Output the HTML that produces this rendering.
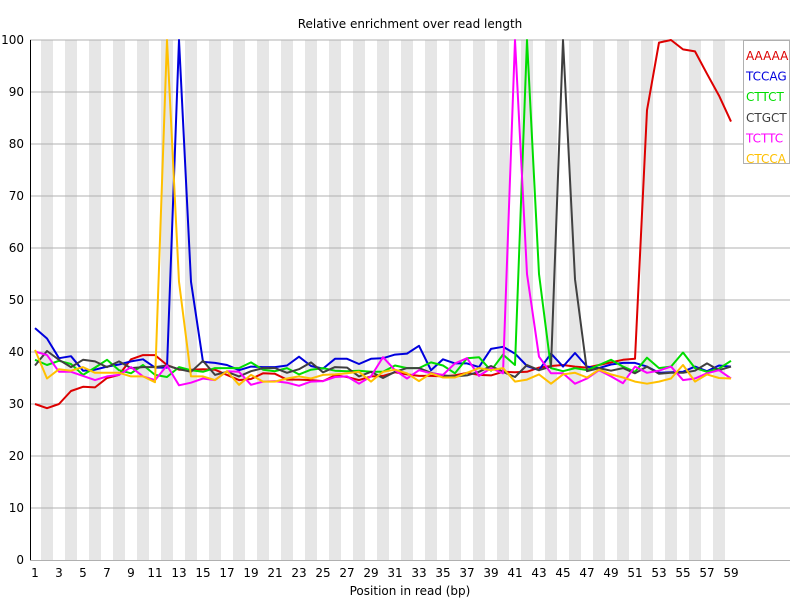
<!DOCTYPE html>
<html><head><meta charset="utf-8"><style>
body{margin:0;background:#fff;}
svg{display:block;font-family:"DejaVu Sans","Liberation Sans",sans-serif;}
</style></head><body>
<svg id="chart" width="800" height="600" xmlns="http://www.w3.org/2000/svg">
<rect width="800" height="600" fill="#fff"/>
<g id="stripes"></g><g id="grid"></g><g id="axes"></g><g id="series"></g><g id="legend"></g>
<text x="410" y="28" font-size="12" text-anchor="middle">Relative enrichment over read length</text>
<text x="410" y="595" font-size="12" text-anchor="middle">Position in read (bp)</text>
</svg>
<script>
const positions = Array.from({length:59},(_,i)=>i+1);
const yTicks = [0,10,20,30,40,50,60,70,80,90,100];
const seriesNames = ["AAAAA","TCCAG","CTTCT","CTGCT","TCTTC","CTCCA"];
const seriesColors = ["#dd0000","#0000dd","#00dd00","#404040","#ff00ff","#ffc000"];
const aaaaa = [30,29.2,30,32.5,33.3,33.2,35,35.6,38.6,39.4,39.4,37.5,36.6,36.6,36.7,36.6,35.6,34.6,34.8,35.9,35.8,34.7,34.7,34.6,34.4,35.5,35.2,34.6,35.3,35.4,36.1,35.7,35.4,35.4,35.3,35.5,36.0,35.6,35.5,36.2,36.1,36.2,37.0,37.3,37.5,37.2,37.0,37.5,38.0,38.5,38.7,86.5,99.5,100,98.2,97.8,93.5,89.3,84.3];
const tccag = [44.6,42.6,38.8,39.2,36.4,36.6,37.2,37.6,38.2,38.6,37.0,37.0,100,53.5,38.1,37.9,37.5,36.5,37.2,37.1,37.1,37.4,39.1,37.3,36.8,38.7,38.7,37.7,38.7,38.8,39.5,39.7,41.2,36.5,38.6,37.8,37.8,37.1,40.6,41.0,39.7,37.3,36.5,39.7,37.2,39.8,37.2,36.9,37.6,37.9,37.9,37.2,36.0,36.1,36.2,37.2,36.3,37.4,37.2];
const cttct = [38.5,37.5,38.3,37.7,35.6,37.0,38.5,36.5,35.9,37.5,35.6,35.2,37.1,36.5,36.2,36.9,36.9,36.9,38.0,36.6,36.3,36.9,35.7,36.6,36.9,36.4,36.3,36.4,36.2,36.2,37.4,36.9,36.9,38.0,37.4,35.9,38.8,39.0,36.4,39.5,37.5,100,55,36.9,36.3,36.9,36.5,37.5,38.5,37.2,36.2,38.9,36.9,37.2,39.9,36.9,36.2,36.8,38.3];
const ctgct = [37.4,40.2,38.5,37.1,38.5,38.2,37.1,38.2,36.9,37.1,37.1,37.4,36.7,36.2,38.3,35.6,36.2,35.3,36.3,36.9,36.9,36.0,36.7,38.0,36.1,37.1,37.0,35.3,36.2,35.0,36.2,36.9,36.9,36.0,35.5,35.3,35.5,36.2,37.3,36.2,35.2,37.5,36.5,37.2,100,54,36.3,36.9,36.4,36.9,35.9,37.2,35.8,36.0,36.0,36.4,37.8,36.5,37.2];
const tcttc = [40.1,39.4,36.2,36.2,35.4,34.6,35.3,35.6,37.1,35.3,34.6,37.4,33.6,34.1,34.9,34.6,36.3,36.2,33.7,34.3,34.4,34.1,33.5,34.3,34.4,35.2,35.3,33.9,35.3,39.0,36.5,34.9,36.5,35.9,35.6,37.8,38.8,35.4,36.9,35.9,100,55,39.1,35.9,35.9,33.9,34.9,36.5,35.3,34.0,37.2,36.0,36.4,37.2,34.6,34.9,35.9,36.5,34.9];
const ctcca = [40.4,34.9,36.7,36.4,37.1,36.0,36.0,36.0,35.3,35.3,34.2,100,53.5,35.3,35.3,34.6,36.3,33.7,35.6,34.3,34.3,34.9,35.3,34.9,35.6,35.7,35.9,36.2,34.3,36.2,36.6,35.9,34.4,35.9,35.1,35.1,36.0,36.9,36.5,36.9,34.3,34.7,35.7,33.9,35.7,36.0,35.1,36.6,35.7,35.1,34.3,33.9,34.3,34.9,37.5,34.3,35.7,35.0,34.9];
const allSeries = [aaaaa,tccag,cttct,ctgct,tcttc,ctcca];

const NS="http://www.w3.org/2000/svg";
const x0=29, colW=12, yTop=40, yBot=560, xRight=790;
function xScale(p){return x0+colW*(p-1)+colW/2;}
function yScale(v){return yBot-(v/100)*(yBot-yTop);}
function mk(tag,attrs,parent){const e=document.createElementNS(NS,tag);for(const k in attrs)e.setAttribute(k,attrs[k]);parent.appendChild(e);return e;}

const stripes=document.getElementById('stripes');
positions.forEach(p=>{
  if(p%2===0){
    const r=mk('rect',{x:x0+colW*(p-1),y:yTop,width:colW,height:yBot-yTop,fill:'#e6e6e6'},stripes);
    
    
  }
});
const grid=document.getElementById('grid');
const axes=document.getElementById('axes');
yTicks.forEach(t=>{
  const y=yScale(t);
  if(t>0){
    const l=mk('line',{x1:30,x2:xRight,y1:y,y2:y,stroke:'#b0b0b0','stroke-width':1},grid);
    
    
  }
  const tx=mk('text',{x:24,y:y+4,'font-size':12,'text-anchor':'end'},axes);
  tx.textContent=t;
  
  
});
const bl=mk('line',{x1:30,x2:xRight,y1:yBot+0.5,y2:yBot+0.5,stroke:'#b0b0b0','stroke-width':1},axes);


const yl=mk('line',{x1:30.5,x2:30.5,y1:yTop,y2:yBot,stroke:'#000','stroke-width':1},axes);


positions.forEach(p=>{
  if(p%2===1){
    const tx=mk('text',{x:xScale(p),y:577,'font-size':12,'text-anchor':'middle'},axes);
    tx.textContent=p;
    
    
  }
});
const sg=document.getElementById('series');
allSeries.forEach((s,i)=>{
  const pts=s.map((v,j)=>xScale(positions[j]).toFixed(1)+','+yScale(v).toFixed(1)).join(' ');
  const pl=mk('polyline',{points:pts,fill:'none',stroke:seriesColors[i],'stroke-width':2,'stroke-linejoin':'round'},sg);
  
  
});
const lg=document.getElementById('legend');
const box=mk('rect',{x:743.5,y:40.5,width:46,height:123,fill:'#fff',stroke:'#b0b0b0'},lg);


seriesNames.forEach((n,i)=>{
  const t=mk('text',{x:746,y:60+i*20.6,'font-size':12,fill:seriesColors[i]},lg);
  t.textContent=n;
  
  
});
</script>
</body></html>
